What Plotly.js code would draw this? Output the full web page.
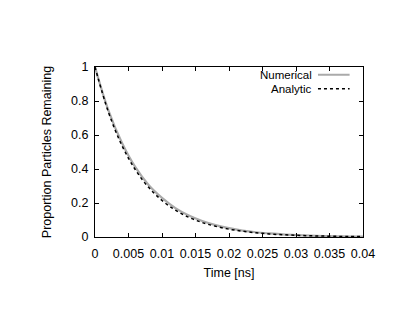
<!DOCTYPE html>
<html><head><meta charset="utf-8">
<script src="https://cdn.plot.ly/plotly-3.0.1.min.js"></script>
<style>html,body{margin:0;padding:0;background:#fff}</style>
</head><body><div id="chart" style="width:415px;height:312px"></div>
<script>
const timeNs = [0,0.002,0.004,0.006,0.008,0.010,0.012,0.014,0.016,0.018,0.020,0.022,0.024,0.026,0.028,0.030,0.032,0.034,0.036,0.038,0.040];
const numerical = [1,0.745,0.556,0.412,0.306,0.230,0.170,0.126,0.094,0.070,0.052,0.038,0.028,0.021,0.015,0.011,0.008,0.006,0.004,0.003,0.002];
const analytic = [1,0.735,0.540,0.397,0.292,0.215,0.158,0.116,0.085,0.063,0.046,0.034,0.025,0.018,0.0135,0.0099,0.0073,0.0054,0.0039,0.0029,0.0021];
const xTicks = [0,0.005,0.01,0.015,0.02,0.025,0.03,0.035,0.04];
const yTicks = [0,0.2,0.4,0.6,0.8,1];
const font = {family:'"Liberation Sans", Arial, sans-serif', size:12.5, color:'#000'};
const legendFont = {family:'"Liberation Sans", Arial, sans-serif', size:11.5, color:'#000'};
const traces = [
 {x:timeNs, y:numerical, mode:'lines', line:{color:'#aaaaaa', width:2.2, shape:'spline'}, name:'Numerical', showlegend:false},
 {x:timeNs, y:analytic, mode:'lines', line:{color:'#000', width:1.5, dash:'3px,3px', shape:'spline'}, name:'Analytic', showlegend:false}
];
const axisCommon = {showline:true, linecolor:'#000', linewidth:1, mirror:'ticks', ticks:'inside', ticklen:4, tickcolor:'#000', showgrid:false, zeroline:false, tickfont:font};
const layout = {
 width:415, height:312,
 margin:{l:95, r:52, t:67, b:75},
 paper_bgcolor:'#fff', plot_bgcolor:'#fff',
 font: font,
 xaxis: Object.assign({}, axisCommon, {range:[0,0.04], tickvals:xTicks, ticktext:xTicks.map(String), ticklabelstandoff:5, title:{text:'Time [ns]', font:font, standoff:8}}),
 yaxis: Object.assign({}, axisCommon, {range:[0,1], tickvals:yTicks, ticktext:yTicks.map(String), ticklabelstandoff:3, title:{text:'Proportion Particles Remaining', font:font, standoff:16}}),
 annotations:[
  {xref:'paper', yref:'paper', x:0.812, y:0.955, xanchor:'right', yanchor:'middle', text:'Numerical', showarrow:false, font:legendFont, borderpad:0},
  {xref:'paper', yref:'paper', x:0.812, y:0.872, xanchor:'right', yanchor:'middle', text:'Analytic', showarrow:false, font:legendFont, borderpad:0}
 ],
 shapes:[
  {type:'line', xref:'paper', yref:'paper', x0:0.832, x1:0.95, y0:0.955, y1:0.955, line:{color:'#aaaaaa', width:2}},
  {type:'line', xref:'paper', yref:'paper', x0:0.832, x1:0.95, y0:0.872, y1:0.872, line:{color:'#000', width:1.5, dash:'3px,3px'}}
 ]
};
Plotly.newPlot('chart', traces, layout, {displayModeBar:false, staticPlot:true});
</script></body></html>
